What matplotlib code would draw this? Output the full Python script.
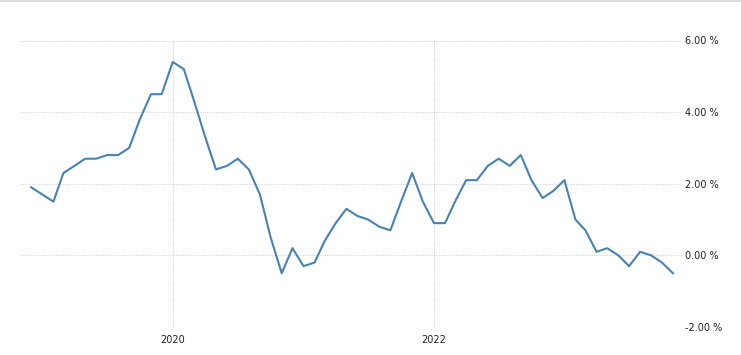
import matplotlib
matplotlib.use("Agg")
import matplotlib.pyplot as plt
import matplotlib.dates as mdates
from matplotlib.lines import Line2D
import pandas as pd

start_month = "2018-12-01"
values = [1.9,
          1.7, 1.5, 2.3, 2.5, 2.7, 2.7, 2.8, 2.8, 3.0, 3.8, 4.5, 4.5,
          5.4, 5.2, 4.3, 3.3, 2.4, 2.5, 2.7, 2.4, 1.7, 0.5, -0.5, 0.2,
          -0.3, -0.2, 0.4, 0.9, 1.3, 1.1, 1.0, 0.8, 0.7, 1.5, 2.3, 1.5,
          0.9, 0.9, 1.5, 2.1, 2.1, 2.5, 2.7, 2.5, 2.8, 2.1, 1.6, 1.8,
          2.1, 1.0, 0.7, 0.1, 0.2, 0.0, -0.3, 0.1, 0.0, -0.2, -0.5]
dates = pd.date_range(start_month, periods=len(values), freq="MS")
y_ticks = [-2, 0, 2, 4, 6]
y_labels = ["-2.00 %", "0.00 %", "2.00 %", "4.00 %", "6.00 %"]
x_ticks = ["2020-01-01", "2022-01-01"]
x_labels = ["2020", "2022"]

W, H = 741, 355
fig = plt.figure(figsize=(W / 100, H / 100), dpi=100)
left, right = 20 / W, 683 / W
bottom, top = (H - 327) / H, (H - 40.5) / H
ax = fig.add_axes([left, bottom, right - left, top - bottom])

ax.plot(dates, values, color="#4682b4", lw=1.5, clip_on=False, zorder=3)

x0 = mdates.date2num(pd.Timestamp(start_month)) - 31.5
x1 = mdates.date2num(dates[-1]) + 28
ax.set_xlim(x0, x1)
ax.set_ylim(-2, 6)

ax.set_yticks(y_ticks)
ax.set_yticklabels(y_labels)
ax.yaxis.tick_right()
ax.set_xticks([mdates.date2num(pd.Timestamp(d)) for d in x_ticks])
ax.set_xticklabels(x_labels)

ax.tick_params(axis="y", length=0, pad=1.5, labelsize=7, labelcolor="#222222")
ax.tick_params(axis="x", length=0, pad=6, labelsize=7, labelcolor="#222222")
for lab in ax.get_yticklabels():
    lab.set_horizontalalignment("left")

ax.grid(True, axis="both", color="#d6d6d6", linestyle=(0, (1, 1)), linewidth=0.8)
ax.set_axisbelow(True)
for s in ax.spines.values():
    s.set_visible(False)

fig.add_artist(Line2D([0, 1], [1 - 0.5 / H, 1 - 0.5 / H], transform=fig.transFigure,
                      color="#dddddd", lw=1.5))

fig.savefig("out.png", dpi=100)
